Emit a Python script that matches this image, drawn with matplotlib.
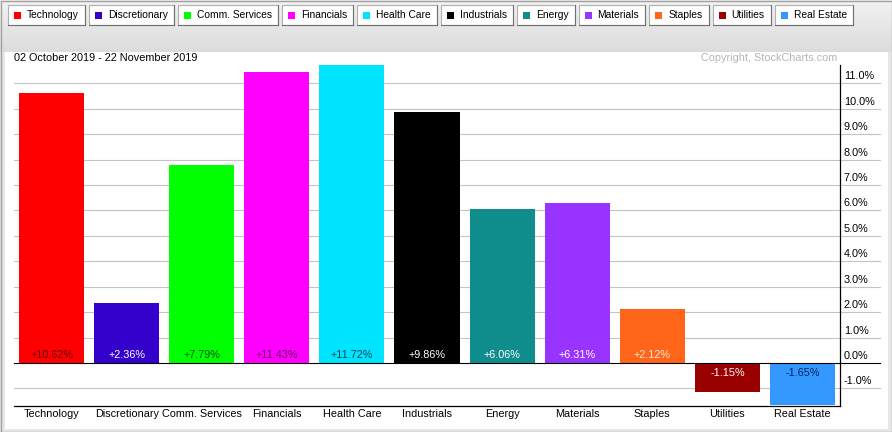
import numpy as np
import matplotlib.pyplot as plt
from matplotlib.patches import Rectangle
from matplotlib.colors import LinearSegmentedColormap
from matplotlib.transforms import blended_transform_factory

plt.rcParams['font.family'] = ['Liberation Sans', 'DejaVu Sans']

# dados
sectors = ['Technology', 'Discretionary', 'Comm. Services', 'Financials', 'Health Care',
           'Industrials', 'Energy', 'Materials', 'Staples', 'Utilities', 'Real Estate']
changes = [10.62, 2.36, 7.79, 11.43, 11.72, 9.86, 6.06, 6.31, 2.12, -1.15, -1.65]
colors = ['#ff0000', '#3300cc', '#00ff00', '#ff00ff', '#00e5ff', '#000000',
          '#0f8c8c', '#9933ff', '#ff6619', '#990000', '#3399ff']
label_colors = ['#660000', 'white', '#005500', '#660066', '#004455', 'white',
                'white', 'white', '#ffe8d8', 'white', '#002060']
yticks = np.arange(-1, 12)
date_range = '02 October 2019 - 22 November 2019'
copyright_txt = 'Copyright, StockCharts.com'

W, H = 892, 432
fs = 7.8

def fx(px):
    return px / W

def fy(py):
    return 1 - py / H

fig = plt.figure(figsize=(W / 100, H / 100), dpi=100, facecolor='#e6e6e6')

# fundo: faixa cinza com gradiente e area branca
bg = fig.add_axes([0, 0, 1, 1], zorder=-10)
bg.set_xlim(0, W)
bg.set_ylim(H, 0)
bg.axis('off')
grad = np.linspace(0, 1, 60).reshape(-1, 1)
bg.imshow(grad, extent=(0, W, 52, 0),
          cmap=LinearSegmentedColormap.from_list('g', ['#f2f2f2', '#dcdcdc']), aspect='auto')
bg.add_patch(Rectangle((5, 52), 883, 377, facecolor='white', edgecolor='none'))
bg.add_patch(Rectangle((0.5, 0.5), W - 1, H - 1, facecolor='none', edgecolor='#a0a0a0', lw=1))

# eixo principal
ax = fig.add_axes([fx(14), fy(406), fx(840) - fx(14), fy(65) - fy(406)])
ax.set_facecolor('none')
x = np.arange(len(sectors))
ax.bar(x, changes, width=65 / 75, color=colors, zorder=3)
ax.set_xlim(-0.5, len(sectors) - 0.5)
ax.set_ylim(-1.69, 11.72)

trans = blended_transform_factory(ax.transAxes, ax.transData)
for v in yticks:
    c = 'black' if v == 0 else '#c4c4c4'
    ax.plot([0, 866 / 826], [v, v], color=c, lw=0.8, transform=trans, clip_on=False,
            zorder=4 if v == 0 else 1)
    ax.annotate(f'{v:.1f}%', xy=(1, v), xycoords=trans, xytext=(4, 7),
                textcoords='offset pixels', fontsize=fs, ha='left', va='center')

for i, v in enumerate(changes):
    off = 8 if v > 0 else -10
    ax.annotate(f'{v:+.2f}%', xy=(i, 0), xytext=(0, off), textcoords='offset pixels',
                ha='center', va='center', fontsize=fs, color=label_colors[i], zorder=5)

ax.spines['top'].set_visible(False)
ax.spines['left'].set_visible(False)
ax.spines['right'].set_linewidth(0.9)
ax.spines['bottom'].set_linewidth(0.9)
ax.set_yticks([])
ax.set_xticks(x)
ax.set_xticklabels(sectors, fontsize=fs)
ax.tick_params(axis='x', length=0, pad=2.5)

fig.text(fx(14), fy(58), date_range, fontsize=fs, va='center', ha='left')
fig.text(fx(837), fy(58), copyright_txt, fontsize=fs, va='center', ha='right', color='#b4b4b4')

# legenda em botoes
renderer = fig.canvas.get_renderer()
left = 8
for name, col in zip(sectors, colors):
    t = fig.text(fx(left + 19), fy(15.5), name, fontsize=7.4, va='center', ha='left', zorder=3)
    tw = t.get_window_extent(renderer).width
    bw = tw + 25
    bg.add_patch(Rectangle((left, 5), bw, 20, facecolor='white', edgecolor='#b0b0b0', lw=0.8))
    bg.plot([left + bw, left + bw], [5, 25], color='#707070', lw=0.8)
    bg.plot([left, left + bw], [25, 25], color='#707070', lw=0.8)
    bg.add_patch(Rectangle((left + 6, 12), 7, 7, facecolor=col, edgecolor='none'))
    left += bw + 4

fig.savefig('out.png', dpi=100, facecolor=fig.get_facecolor())
